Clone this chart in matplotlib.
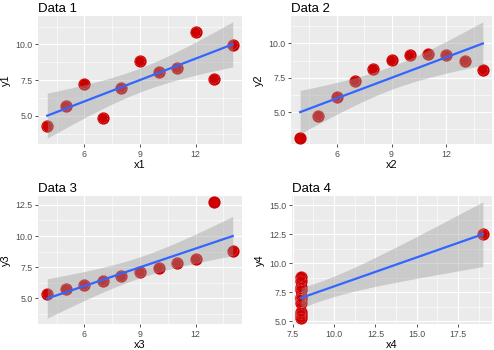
import matplotlib.pyplot as plt
import numpy as np
from matplotlib.ticker import MultipleLocator

plt.rcParams['font.family'] = ['Liberation Sans', 'DejaVu Sans']

# Anscombe's quartet
x1 = [10, 8, 13, 9, 11, 14, 6, 4, 12, 7, 5]
y1 = [8.04, 6.95, 7.58, 8.81, 8.33, 9.96, 7.24, 4.26, 10.84, 4.82, 5.68]
x2 = [10, 8, 13, 9, 11, 14, 6, 4, 12, 7, 5]
y2 = [9.14, 8.14, 8.74, 8.77, 9.26, 8.10, 6.13, 3.10, 9.13, 7.26, 4.74]
x3 = [10, 8, 13, 9, 11, 14, 6, 4, 12, 7, 5]
y3 = [7.46, 6.77, 12.74, 7.11, 7.81, 8.84, 6.08, 5.39, 8.15, 6.42, 5.73]
x4 = [8, 8, 8, 8, 8, 8, 8, 19, 8, 8, 8]
y4 = [6.58, 5.76, 7.71, 8.84, 8.47, 7.04, 5.25, 12.50, 5.56, 7.91, 6.89]

titles = ["Data 1", "Data 2", "Data 3", "Data 4"]
xlabels = ["x1", "x2", "x3", "x4"]
ylabels = ["y1", "y2", "y3", "y4"]
# points drawn without the inner ring
plain = [[], [7], [2], []]

T975 = 2.262157  # t quantile, df = 9

BG = "#EBEBEB"
RED = "#CC0000"

fig = plt.figure(figsize=(4.94, 3.5), dpi=100)
# panel boxes in pixels: left, top, right, bottom
boxes = [(38, 16, 242, 144), (291, 16, 492, 144),
         (38, 196, 242, 324), (292, 196, 492, 324)]
W, H = 494, 350

data = [(x1, y1), (x2, y2), (x3, y3), (x4, y4)]
for i, (xs, ys) in enumerate(data):
    l, t, r, b = boxes[i]
    ax = fig.add_axes([l / W, 1 - b / H, (r - l) / W, (b - t) / H])
    x = np.array(xs, float)
    y = np.array(ys, float)
    n = len(x)
    slope, icpt = np.polyfit(x, y, 1)
    resid = y - (slope * x + icpt)
    s = np.sqrt(np.sum(resid ** 2) / (n - 2))
    sxx = np.sum((x - x.mean()) ** 2)
    xg = np.linspace(x.min(), x.max(), 80)
    fit = slope * xg + icpt
    se = s * np.sqrt(1 / n + (xg - x.mean()) ** 2 / sxx)
    lo, hi = fit - T975 * se, fit + T975 * se

    ax.set_facecolor(BG)
    for sp in ax.spines.values():
        sp.set_visible(False)

    ax.scatter(x, y, s=78, color=RED, linewidths=0, zorder=3)
    ring = [k for k in range(n) if k not in plain[i]]
    ax.scatter(x[ring], y[ring], s=50, facecolors='none', edgecolors='white',
               linewidths=0.4, linestyle=':', alpha=0.6, zorder=3)
    ax.fill_between(xg, lo, hi, color='#999999', alpha=0.4, linewidth=0, zorder=4)
    ax.plot(xg, fit, color='#3366FF', linewidth=1.6, zorder=5)

    xmin, xmax = x.min(), x.max()
    ymin, ymax = min(y.min(), lo.min()), max(y.max(), hi.max())
    dx, dy = (xmax - xmin) * 0.05, (ymax - ymin) * 0.05
    ax.set_xlim(xmin - dx, xmax + dx)
    ax.set_ylim(ymin - dy, ymax + dy)

    if i == 3:
        ax.xaxis.set_major_locator(MultipleLocator(2.5))
        ax.xaxis.set_minor_locator(MultipleLocator(1.25))
        ax.xaxis.set_major_formatter(plt.FormatStrFormatter('%.1f'))
    else:
        ax.xaxis.set_major_locator(MultipleLocator(3))
        ax.xaxis.set_minor_locator(MultipleLocator(1.5))
    ax.yaxis.set_major_locator(MultipleLocator(2.5))
    ax.yaxis.set_minor_locator(MultipleLocator(1.25))
    ax.yaxis.set_major_formatter(plt.FormatStrFormatter('%.1f'))

    ax.grid(which='major', color='white', linewidth=0.8)
    ax.grid(which='minor', color='white', linewidth=0.4)
    ax.set_axisbelow(True)
    ax.tick_params(which='major', length=2.5, width=0.6, color='#333333',
                   labelsize=6.3, labelcolor='#4D4D4D', pad=1.5)
    ax.tick_params(which='minor', length=0)

    ax.set_xlabel(xlabels[i], fontsize=7.9, labelpad=1)
    ax.set_ylabel(ylabels[i], fontsize=7.9, labelpad=3)
    ax.set_title(titles[i], fontsize=9.5, loc='left', pad=3)

fig.savefig("out.png", dpi=100, facecolor='white')
